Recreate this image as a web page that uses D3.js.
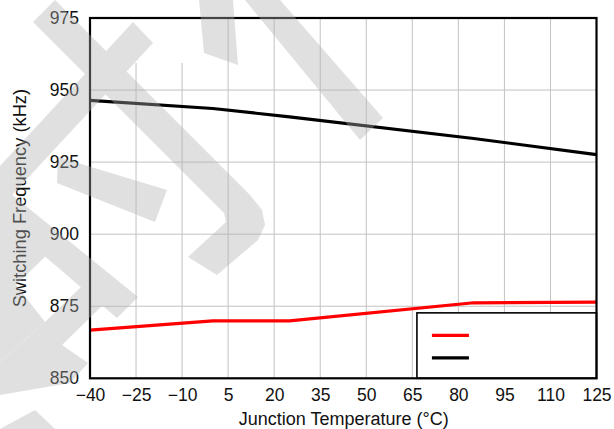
<!DOCTYPE html>
<html>
<head>
<meta charset="utf-8">
<script src="https://cdn.jsdelivr.net/npm/d3@7"></script>
<style>
  html, body { margin: 0; padding: 0; background: #fff; }
  svg { display: block; }
  text { font-family: "Liberation Sans", Arial, sans-serif; }
</style>
</head>
<body>
<svg id="chart" width="614" height="429"></svg>
<script>
// ---- data ----
const temps = [-40, 0, 25, 85, 125];
const freqRed = [866.7, 869.9, 869.9, 876.2, 876.4];
const freqBlack = [946.4, 943.6, 940.7, 933.2, 927.6];
const seriesColors = ["#ff0000", "#000000"];
const xTicks = [-40, -25, -10, 5, 20, 35, 50, 65, 80, 95, 110, 125];
const yTicks = [850, 875, 900, 925, 950, 975];
const xTitle = "Junction Temperature (°C)";
const yTitle = "Switching Frequency (kHz)";

// ---- layout ----
const svg = d3.select("#chart");
const L = 90, T = 18, R = 596.5, B = 378.3;
const x = d3.scaleLinear().domain([-40, 125]).range([L, R]);
const y = d3.scaleLinear().domain([850, 975]).range([B, T]);
const fs = 17.5;

// grid
const grid = svg.append("g");
grid.selectAll("line.v").data(xTicks.slice(1, -1)).join("line")
  .attr("x1", d => x(d)).attr("x2", d => x(d)).attr("y1", T).attr("y2", B)
  .attr("stroke", "#c2c2c2").attr("stroke-width", 1);
grid.selectAll("line.h").data(yTicks.slice(1, -1)).join("line")
  .attr("x1", L).attr("x2", R).attr("y1", d => y(d)).attr("y2", d => y(d))
  .attr("stroke", "#c2c2c2").attr("stroke-width", 1);
// blank patch in the upper-left of the plot
svg.append("rect").attr("x", 96).attr("y", T + 1).attr("width", 112).attr("height", 44).attr("fill", "#fff");

// axes
const xAxis = d3.axisBottom(x).tickValues(xTicks).tickSize(0).tickPadding(10).tickFormat(d3.format("d"));
const yAxis = d3.axisLeft(y).tickValues(yTicks).tickSize(0).tickPadding(11).tickFormat(d3.format("d"));
const gx = svg.append("g").attr("transform", `translate(0,${B})`).call(xAxis);
const gy = svg.append("g").attr("transform", `translate(${L},0)`).call(yAxis);
[gx, gy].forEach(g => {
  g.select(".domain").remove();
  g.selectAll("text").attr("font-size", fs).attr("fill", "#111")
    .attr("font-family", "'Liberation Sans', Arial, sans-serif");
});

// series lines
const line = d3.line().x(d => x(d[0])).y(d => y(d[1]));
const series = [freqRed, freqBlack];
series.forEach((vals, i) => {
  svg.append("path").datum(temps.map((t, j) => [t, vals[j]]))
    .attr("d", line).attr("fill", "none")
    .attr("stroke", seriesColors[i]).attr("stroke-width", 3.2)
    .attr("stroke-linejoin", "round");
});

// legend box (no labels)
const lg = svg.append("g");
const lgX = x(66.5), lgY = y(872.7);
lg.append("rect").attr("x", lgX).attr("y", lgY).attr("width", R - lgX).attr("height", B - lgY)
  .attr("fill", "#fff").attr("stroke", "#000").attr("stroke-width", 1.6);
seriesColors.forEach((c, i) => {
  lg.append("line").attr("x1", lgX + 15).attr("x2", lgX + 52)
    .attr("y1", lgY + 22.5 + i * 22.5).attr("y2", lgY + 22.5 + i * 22.5)
    .attr("stroke", c).attr("stroke-width", 3.2);
});

// frame
svg.append("rect").attr("x", L).attr("y", T).attr("width", R - L).attr("height", B - T)
  .attr("fill", "none").attr("stroke", "#000").attr("stroke-width", 2.2);

// titles
svg.append("text").attr("x", (L + R) / 2 + 0.5).attr("y", 425).attr("text-anchor", "middle")
  .attr("font-size", 18).attr("fill", "#111").text(xTitle);
svg.append("text").attr("transform", `translate(26,${(T + B) / 2}) rotate(-90)`)
  .attr("text-anchor", "middle").attr("font-size", 18.3).attr("fill", "#111").text(yTitle);

// watermark overlay (decoration)
const wm = [
  [[33,22],[55,0],[250,195],[262,210],[265,225],[258,240],[217,275],[188,257],[226,222],[224,213]],
  [[133,22],[153,43],[0,208],[0,166]],
  [[199,0],[233,0],[238,65],[204,53]],
  [[245,0],[280,0],[383,118],[360,140]],
  [[58,157],[167,190],[155,222],[57,183]],
  [[0,185],[138,297],[117,318],[0,218]],
  [[0,210],[52,250],[16,285],[45,322],[0,362]],
  [[83,285],[105,303],[62,345],[88,363],[70,383],[0,395],[0,362],[45,322]],
  [[0,429],[35,410],[55,429]]
];
const wg = svg.append("g").attr("opacity", 0.385);
wg.selectAll("path").data(wm).join("path")
  .attr("d", d => "M" + d.map(p => p.join(",")).join("L") + "Z")
  .attr("fill", "rgb(177,177,177)");
</script>
</body>
</html>
